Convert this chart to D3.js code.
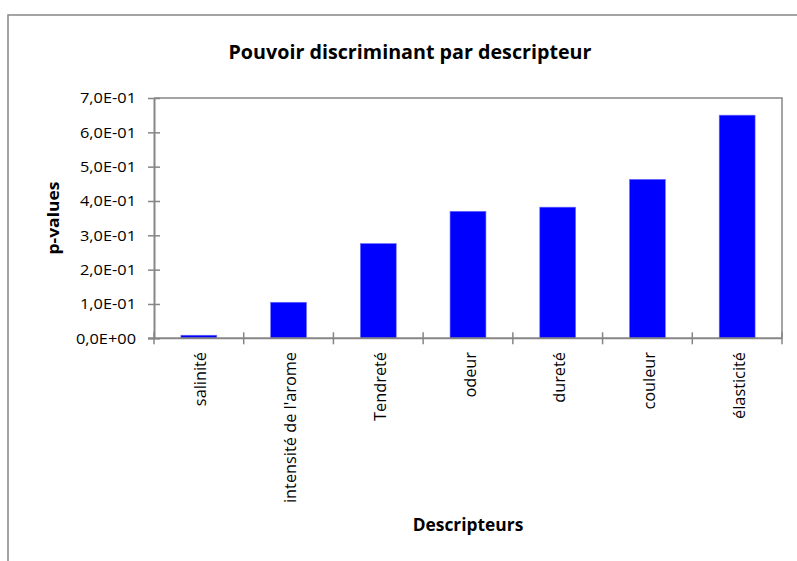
<!DOCTYPE html>
<html>
<head>
<meta charset="utf-8">
<script src="https://cdn.jsdelivr.net/npm/d3@7"></script>
<style>
  body { margin: 0; background: #fff; }
  svg { display: block; }
</style>
</head>
<body>
<svg id="chart" width="797" height="561"></svg>
<script>
// ---- data ----
const categories = ["salinité", "intensité de l'arome", "Tendreté", "odeur", "dureté", "couleur", "élasticité"];
const pValues = [0.009, 0.105, 0.276, 0.370, 0.382, 0.463, 0.650];
const yTicks = [0, 0.1, 0.2, 0.3, 0.4, 0.5, 0.6, 0.7];
const yTickLabels = ["0,0E+00", "1,0E-01", "2,0E-01", "3,0E-01", "4,0E-01", "5,0E-01", "6,0E-01", "7,0E-01"];
const chartTitle = "Pouvoir discriminant par descripteur";
const xTitle = "Descripteurs";
const yTitle = "p-values";

// ---- layout ----
const plot = { left: 154, right: 782, top: 98, bottom: 338.3 };
const gray = "#868686";
const FONT = "'Open Sans', 'DejaVu Sans', sans-serif";

const svg = d3.select("#chart");

// helper: given font size (height), compress horizontally so a reference text reaches target width
function squeeze(sel, refSel, fontSize, target) {
  sel.attr("font-size", fontSize);
  const refW = refSel.node().getComputedTextLength();
  const k = target / refW;
  sel.each(function () {
    const w = this.getComputedTextLength();
    d3.select(this).attr("textLength", w * k).attr("lengthAdjust", "spacingAndGlyphs");
  });
}

// outer chart frame (extends beyond visible area right/bottom)
svg.append("rect")
  .attr("x", 8).attr("y", 15)
  .attr("width", 820).attr("height", 600)
  .attr("fill", "none").attr("stroke", gray).attr("stroke-width", 1.5);

const x = d3.scaleBand()
  .domain(categories)
  .range([plot.left, plot.right])
  .paddingInner(0.6)
  .paddingOuter(0.3);

const y = d3.scaleLinear()
  .domain([0, 0.7])
  .range([plot.bottom, plot.top]);

// plot area border (top & right)
svg.append("path")
  .attr("d", `M${plot.left},${plot.top}H${plot.right}V${plot.bottom}`)
  .attr("fill", "none").attr("stroke", gray).attr("stroke-width", 1.5);

// bars
svg.append("g").selectAll("rect")
  .data(categories)
  .join("rect")
  .attr("x", d => x(d))
  .attr("width", x.bandwidth())
  .attr("y", (d, i) => y(pValues[i]))
  .attr("height", (d, i) => y(0) - y(pValues[i]))
  .attr("fill", "#0000FF")
  .attr("stroke", "#6f6fff")
  .attr("stroke-width", 0.6);

// y axis
const yAxis = d3.axisLeft(y)
  .tickValues(yTicks)
  .tickFormat((d, i) => yTickLabels[i])
  .tickSizeInner(6)
  .tickSizeOuter(0)
  .tickPadding(12);
const gy = svg.append("g")
  .attr("transform", `translate(${plot.left},0)`)
  .call(yAxis);
gy.select(".domain").attr("stroke", gray).attr("stroke-width", 2);
gy.selectAll(".tick line").attr("stroke", gray).attr("stroke-width", 1.5)
  .attr("x1", 6).attr("x2", -6);
const yLab = gy.selectAll(".tick text")
  .attr("font-family", FONT).attr("fill", "#000")
  .attr("x", -18).attr("dy", "0.35em");
squeeze(yLab, yLab.filter((d, i) => i === 7), 14, 56);

// x axis (ticks at band boundaries)
const boundaries = d3.range(categories.length + 1).map(i => plot.left + i * x.step());
const gx = svg.append("g");
gx.append("line")
  .attr("x1", plot.left - 6).attr("x2", plot.right)
  .attr("y1", plot.bottom).attr("y2", plot.bottom)
  .attr("stroke", gray).attr("stroke-width", 2);
gx.selectAll("line.tk").data(boundaries).join("line")
  .attr("class", "tk")
  .attr("x1", d => d).attr("x2", d => d)
  .attr("y1", plot.bottom - 6).attr("y2", plot.bottom + 6)
  .attr("stroke", gray).attr("stroke-width", 1.5);

// category labels
const catLabels = gx.selectAll("text.cat").data(categories).join("text")
  .attr("class", "cat")
  .attr("font-family", FONT)
  .attr("text-anchor", "end")
  .attr("transform", d => `translate(${x(d) + x.bandwidth() / 2 + 7.5},352) rotate(-90)`)
  .text(d => d);
squeeze(catLabels, catLabels.filter((d, i) => i === 1), 15.5, 151);

// title
const title = svg.append("text")
  .attr("x", 410).attr("y", 58.5)
  .attr("text-anchor", "middle")
  .attr("font-family", FONT).attr("font-weight", "bold")
  .text(chartTitle);
squeeze(title, title, 19.5, 363);

// x title
const xt = svg.append("text")
  .attr("x", 468).attr("y", 531)
  .attr("text-anchor", "middle")
  .attr("font-family", FONT).attr("font-weight", "bold")
  .text(xTitle);
squeeze(xt, xt, 17.5, 110.6);

// y title
const yt = svg.append("text")
  .attr("transform", "translate(59,218) rotate(-90)")
  .attr("text-anchor", "middle")
  .attr("font-family", FONT).attr("font-weight", "bold")
  .text(yTitle);
squeeze(yt, yt, 16, 73);
</script>
</body>
</html>
